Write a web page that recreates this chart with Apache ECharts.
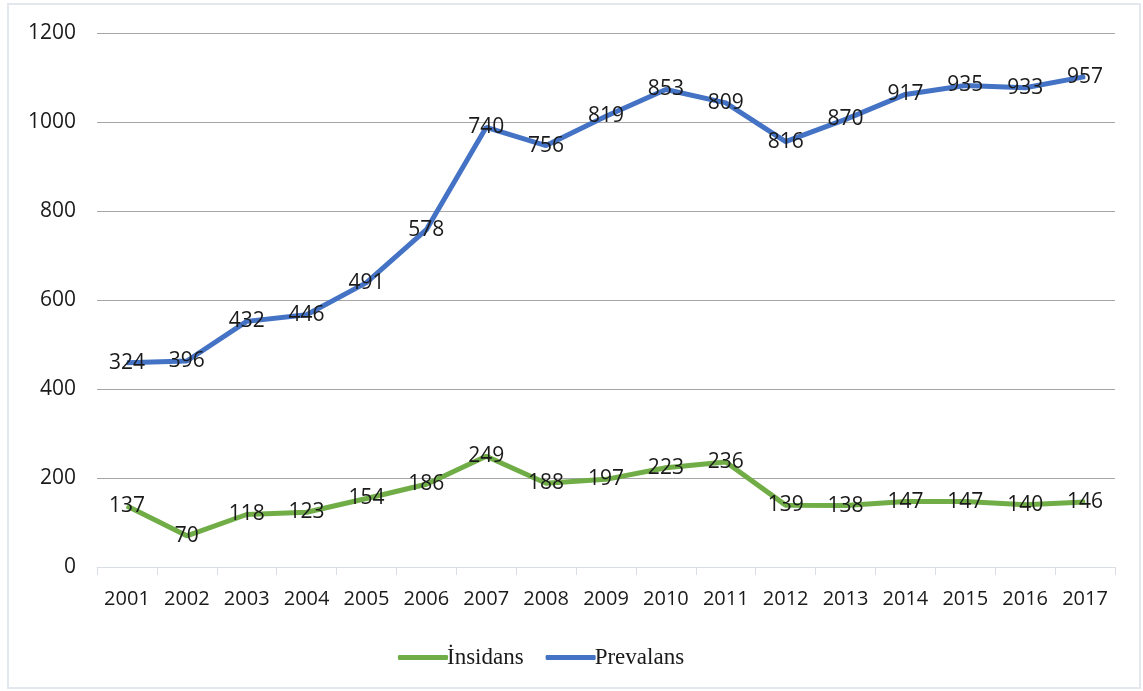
<!DOCTYPE html>
<html><head><meta charset="utf-8">
<script src="https://cdn.jsdelivr.net/npm/echarts@6/dist/echarts.min.js"></script>
<style>
html,body{margin:0;padding:0;background:#fff;}
#frame{position:absolute;left:7px;top:3px;width:1130px;height:682px;border:2px solid #e3e8ee;}
#chart{position:absolute;left:0;top:0;width:1143px;height:691px;}
</style></head>
<body>
<div id="frame"></div>
<div id="chart"></div>
<script>
const years = ['2001','2002','2003','2004','2005','2006','2007','2008','2009','2010','2011','2012','2013','2014','2015','2016','2017'];
const insidans = [137,70,118,123,154,186,249,188,197,223,236,139,138,147,147,140,146];
// Prevalans line as drawn in the picture
const prevalans = [459,463,552,567,639,758,988,947,1013,1073,1043,956,1006,1062,1082,1077,1102];
// Prevalans data labels as printed in the picture
const prevalansLabels = [324,396,432,446,491,578,740,756,819,853,809,816,870,917,935,933,957];
const yTicks = [0,200,400,600,800,1000,1200];

const chart = echarts.init(document.getElementById('chart'));
const labelStyle = {show:true, position:'inside', offset:[0,3], color:'#1a1a1a', fontSize:21, fontFamily:'Open Sans'};
chart.setOption({
  animation:false,
  grid:{left:97,right:28,top:33,bottom:124},
  legend:{
    top:641, left:393, itemWidth:50, itemHeight:5, itemGap:22,
    icon:'roundRect',
    textStyle:{fontFamily:'Liberation Serif', fontSize:23, color:'#1a1a1a', padding:[0,0,0,-6]},
    data:['İnsidans','Prevalans']
  },
  xAxis:{
    type:'category', data:years, boundaryGap:true,
    axisLine:{lineStyle:{color:'#d9dee5',width:1}},
    axisTick:{show:true,alignWithLabel:false,interval:0,length:8,lineStyle:{color:'#d9dee5'}},
    axisLabel:{color:'#1a1a1a',fontSize:20,fontFamily:'Open Sans',margin:22,interval:0}
  },
  yAxis:{
    type:'value', min:yTicks[0], max:yTicks[yTicks.length-1], interval:200,
    axisLine:{show:false}, axisTick:{show:false},
    axisLabel:{color:'#1a1a1a',fontSize:21,fontFamily:'Open Sans',margin:21,formatter:v=>String(v)},
    splitLine:{lineStyle:{color:'#a6a6a6',width:1}}
  },
  series:[
    {name:'İnsidans',type:'line',data:insidans,showSymbol:true,symbol:'circle',symbolSize:1,
     lineStyle:{color:'#70ad47',width:5},itemStyle:{color:'#70ad47'},
     label:labelStyle, labelLayout:{hideOverlap:false}},
    {name:'Prevalans',type:'line',data:prevalans,showSymbol:true,symbol:'circle',symbolSize:1,
     lineStyle:{color:'#4472c4',width:5},itemStyle:{color:'#4472c4'},
     label:Object.assign({},labelStyle,{formatter:p=>String(prevalansLabels[p.dataIndex])}),
     labelLayout:{hideOverlap:false}}
  ]
});
</script>
</body></html>
